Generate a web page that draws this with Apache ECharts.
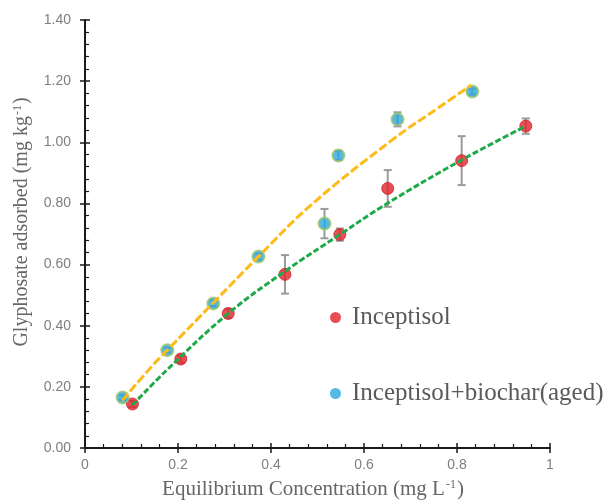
<!DOCTYPE html>
<html>
<head>
<meta charset="utf-8">
<script src="https://cdn.jsdelivr.net/npm/echarts@6/dist/echarts.min.js"></script>
<style>html,body{margin:0;padding:0;background:#fff}#c{width:611px;height:500px}</style>
</head>
<body>
<div id="c"></div>
<script>
// ---- data ----
const inceptX   = [0.102, 0.206, 0.308, 0.430, 0.548, 0.651, 0.810, 0.948];
const inceptY   = [0.144, 0.291, 0.440, 0.568, 0.698, 0.849, 0.940, 1.053];
const inceptErr = [0.010, 0.012, 0.014, 0.063, 0.020, 0.060, 0.080, 0.025];

const bioX   = [0.081, 0.177, 0.276, 0.373, 0.515, 0.545, 0.672, 0.833];
const bioY   = [0.165, 0.320, 0.473, 0.626, 0.734, 0.957, 1.075, 1.166];
const bioErr = [0.008, 0.008, 0.010, 0.010, 0.048, 0.015, 0.023, 0.010];

// fitted trend lines as traced on the picture
const fitInceptX = [0.102, 0.176, 0.308, 0.430, 0.550, 0.650, 0.810, 0.948];
const fitInceptY = [0.140, 0.255, 0.440, 0.578, 0.700, 0.800, 0.942, 1.053];
const fitBioX = [0.080, 0.140, 0.177, 0.276, 0.373, 0.484, 0.660, 0.763, 0.831];
const fitBioY = [0.155, 0.261, 0.320, 0.475, 0.626, 0.792, 1.007, 1.116, 1.187];

const seriesNames = ['Inceptisol', 'Inceptisol+biochar(aged)'];
const xTitle = 'Equilibrium Concentration (mg L';
const yTitle = 'Glyphosate adsorbed (mg kg';

// ---- build ----
const zip = (a, b) => a.map((v, i) => [v, b[i]]);
const errData = (x, y, e) => x.map((v, i) => [v, y[i] - e[i], y[i] + e[i]]);

function errRender(params, api) {
  const x = api.value(0);
  const lo = api.coord([x, api.value(1)]);
  const hi = api.coord([x, api.value(2)]);
  const w = 4;
  const st = { stroke: '#9a9a9a', lineWidth: 2 };
  return {
    type: 'group',
    children: [
      { type: 'line', shape: { x1: lo[0], y1: lo[1], x2: hi[0], y2: hi[1] }, style: st },
      { type: 'line', shape: { x1: lo[0] - w, y1: lo[1], x2: lo[0] + w, y2: lo[1] }, style: st },
      { type: 'line', shape: { x1: hi[0] - w, y1: hi[1], x2: hi[0] + w, y2: hi[1] }, style: st }
    ]
  };
}

const labelColor = '#7f7f7f';
const titleColor = '#666666';
const serif = '"Liberation Serif", "DejaVu Serif", serif';

const chart = echarts.init(document.getElementById('c'), null, { renderer: 'canvas' });

const commonAxisLine = { show: true, lineStyle: { color: '#1a1a1a', width: 2 } };

chart.setOption({
  animation: false,
  backgroundColor: '#ffffff',
  grid: { left: 85, right: 61, top: 20, bottom: 52 },
  xAxis: [
    {
      type: 'value', min: 0, max: 1, interval: 0.2,
      axisLine: commonAxisLine,
      axisTick: { show: true, inside: false, length: 5, lineStyle: { color: '#1a1a1a', width: 1.5 } },
      axisLabel: { color: labelColor, fontSize: 14, fontFamily: 'Liberation Sans', margin: 10 },
      splitLine: { show: false }
    },
    {
      type: 'value', min: 0, max: 1, interval: 0.2, position: 'bottom',
      axisLine: { show: false },
      axisTick: { show: true, inside: true, length: 5, lineStyle: { color: '#1a1a1a', width: 1.5 } },
      minorTick: { show: true, splitNumber: 5, length: 4, lineStyle: { color: '#1a1a1a', width: 1.2 } },
      axisLabel: { show: false },
      splitLine: { show: false }
    }
  ],
  yAxis: [
    {
      type: 'value', min: 0, max: 1.4, interval: 0.2,
      axisLine: commonAxisLine,
      axisTick: { show: true, inside: false, length: 5, lineStyle: { color: '#1a1a1a', width: 1.5 } },
      axisLabel: { color: labelColor, fontSize: 14, fontFamily: 'Liberation Sans', margin: 14,
                   formatter: v => v.toFixed(2) },
      splitLine: { show: false }
    },
    {
      type: 'value', min: 0, max: 1.4, interval: 0.2, position: 'left',
      axisLine: { show: false },
      axisTick: { show: true, inside: true, length: 5, lineStyle: { color: '#1a1a1a', width: 1.5 } },
      minorTick: { show: true, splitNumber: 5, length: 4, lineStyle: { color: '#1a1a1a', width: 1.2 } },
      axisLabel: { show: false },
      splitLine: { show: false }
    }
  ],
  legend: {
    orient: 'vertical',
    left: 325, top: 300,
    itemGap: 51,
    itemWidth: 11, itemHeight: 11,
    data: seriesNames.map(n => ({ name: n, icon: 'circle' })),
    itemStyle: { borderWidth: 0 },
    textStyle: { fontFamily: serif, fontSize: 25, color: '#5a5a5a', padding: [0, 0, 0, 6] }
  },
  graphic: [
    {
      type: 'text', x: 22, y: 222, rotation: Math.PI / 2,
      style: {
        text: '{t|' + yTitle + '}{s|-1}{t|)}',
        align: 'center', verticalAlign: 'middle',
        rich: {
          t: { fontFamily: serif, fontSize: 20, fill: titleColor },
          s: { fontFamily: serif, fontSize: 12, fill: titleColor, verticalAlign: 'top', padding: [0, 1, 8, 1] }
        }
      }
    },
    {
      type: 'text', x: 313, y: 489,
      style: {
        text: '{t|' + xTitle + '}{s|-1}{t|)}',
        align: 'center', verticalAlign: 'middle',
        rich: {
          t: { fontFamily: serif, fontSize: 21, fill: titleColor },
          s: { fontFamily: serif, fontSize: 12, fill: titleColor, verticalAlign: 'top', padding: [0, 1, 8, 1] }
        }
      }
    }
  ],
  series: [
    { type: 'custom', name: 'errI', renderItem: errRender, data: errData(inceptX, inceptY, inceptErr), z: 2, silent: true },
    { type: 'custom', name: 'errB', renderItem: errRender, data: errData(bioX, bioY, bioErr), z: 2, silent: true },
    {
      type: 'scatter', name: seriesNames[0], data: zip(inceptX, inceptY), symbolSize: 12, z: 3,
      itemStyle: { color: '#e3202a', borderColor: '#c8262c', borderWidth: 1 }
    },
    {
      type: 'scatter', name: seriesNames[1], data: zip(bioX, bioY), symbolSize: 12, z: 3,
      itemStyle: { color: '#2aa7dd', borderColor: '#9cc46a', borderWidth: 2 }
    },
    {
      type: 'line', name: 'fitI', data: zip(fitInceptX, fitInceptY), smooth: 0.4, showSymbol: false, symbol: 'none', z: 4,
      lineStyle: { color: '#1faa4a', width: 3, type: [6, 2.5] }
    },
    {
      type: 'line', name: 'fitB', data: zip(fitBioX, fitBioY), smooth: 0.4, showSymbol: false, symbol: 'none', z: 4,
      lineStyle: { color: '#fdbb1a', width: 3, type: [9, 3] }
    }
  ]
});
</script>
</body>
</html>
